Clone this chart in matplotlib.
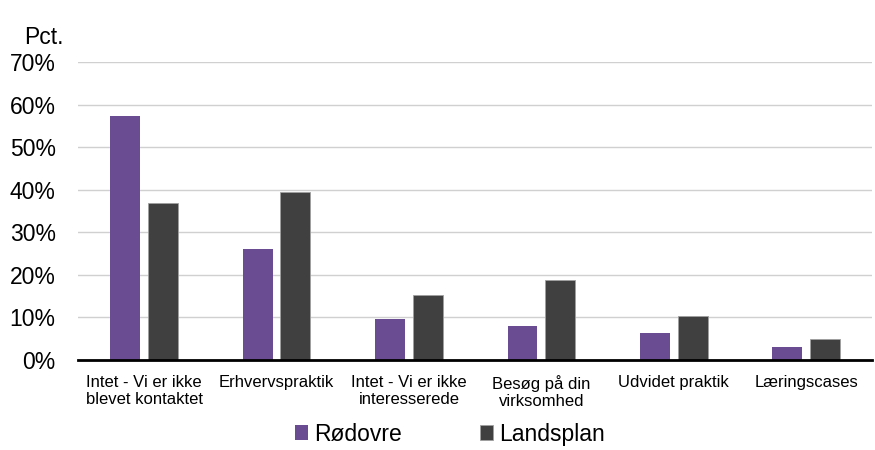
import numpy as np
import matplotlib.pyplot as plt

# Data
kategorier = ["Intet - Vi er ikke\nblevet kontaktet", "Erhvervspraktik",
              "Intet - Vi er ikke\ninteresserede", "Besøg på din\nvirksomhed",
              "Udvidet praktik", "Læringscases"]
roedovre = [57.3, 26.1, 9.6, 8.0, 6.4, 3.1]
landsplan = [36.8, 39.4, 15.3, 18.9, 10.4, 4.9]

plt.rcParams['font.family'] = ['Liberation Sans', 'DejaVu Sans']

fig = plt.figure(figsize=(8.75, 4.5), dpi=100)
ax = fig.add_axes([0.089, 0.2, 0.908, 0.662])

x = np.arange(len(kategorier))
bredde = 0.225
ax.bar(x - 0.03 - bredde / 2, roedovre, bredde, color="#6A4C93", label="Rødovre", zorder=3)
ax.bar(x + 0.03 + bredde / 2, landsplan, bredde, color="#404040", edgecolor="#A0A0A0",
       linewidth=0.6, label="Landsplan", zorder=3)

ax.set_xlim(-0.5, len(kategorier) - 0.5)
ax.set_ylim(0, 70)
ax.set_yticks(np.arange(0, 71, 10))
ax.set_yticklabels([f"{v}%" for v in range(0, 71, 10)], fontsize=16.5)
ax.set_xticks(x)
ax.set_xticklabels(kategorier, fontsize=12, linespacing=1.15)
ax.tick_params(axis='both', length=0)
ax.tick_params(axis='y', pad=16)
ax.tick_params(axis='x', pad=11)

ax.grid(axis='y', color="#D0D0D0", linewidth=1, zorder=0)
for s in ["top", "right", "left"]:
    ax.spines[s].set_visible(False)
ax.spines["bottom"].set_color("black")
ax.spines["bottom"].set_linewidth(2)
ax.spines["bottom"].set_zorder(4)

fig.text(0.027, 0.917, "Pct.", fontsize=16.5, va="center")

fig.legend(loc="lower center", bbox_to_anchor=(0.514, -0.036), ncol=2, frameon=False,
           fontsize=16.5, handlelength=0.6, handleheight=0.6, handletextpad=0.25,
           columnspacing=3.4)

fig.savefig("out.png", dpi=100)
